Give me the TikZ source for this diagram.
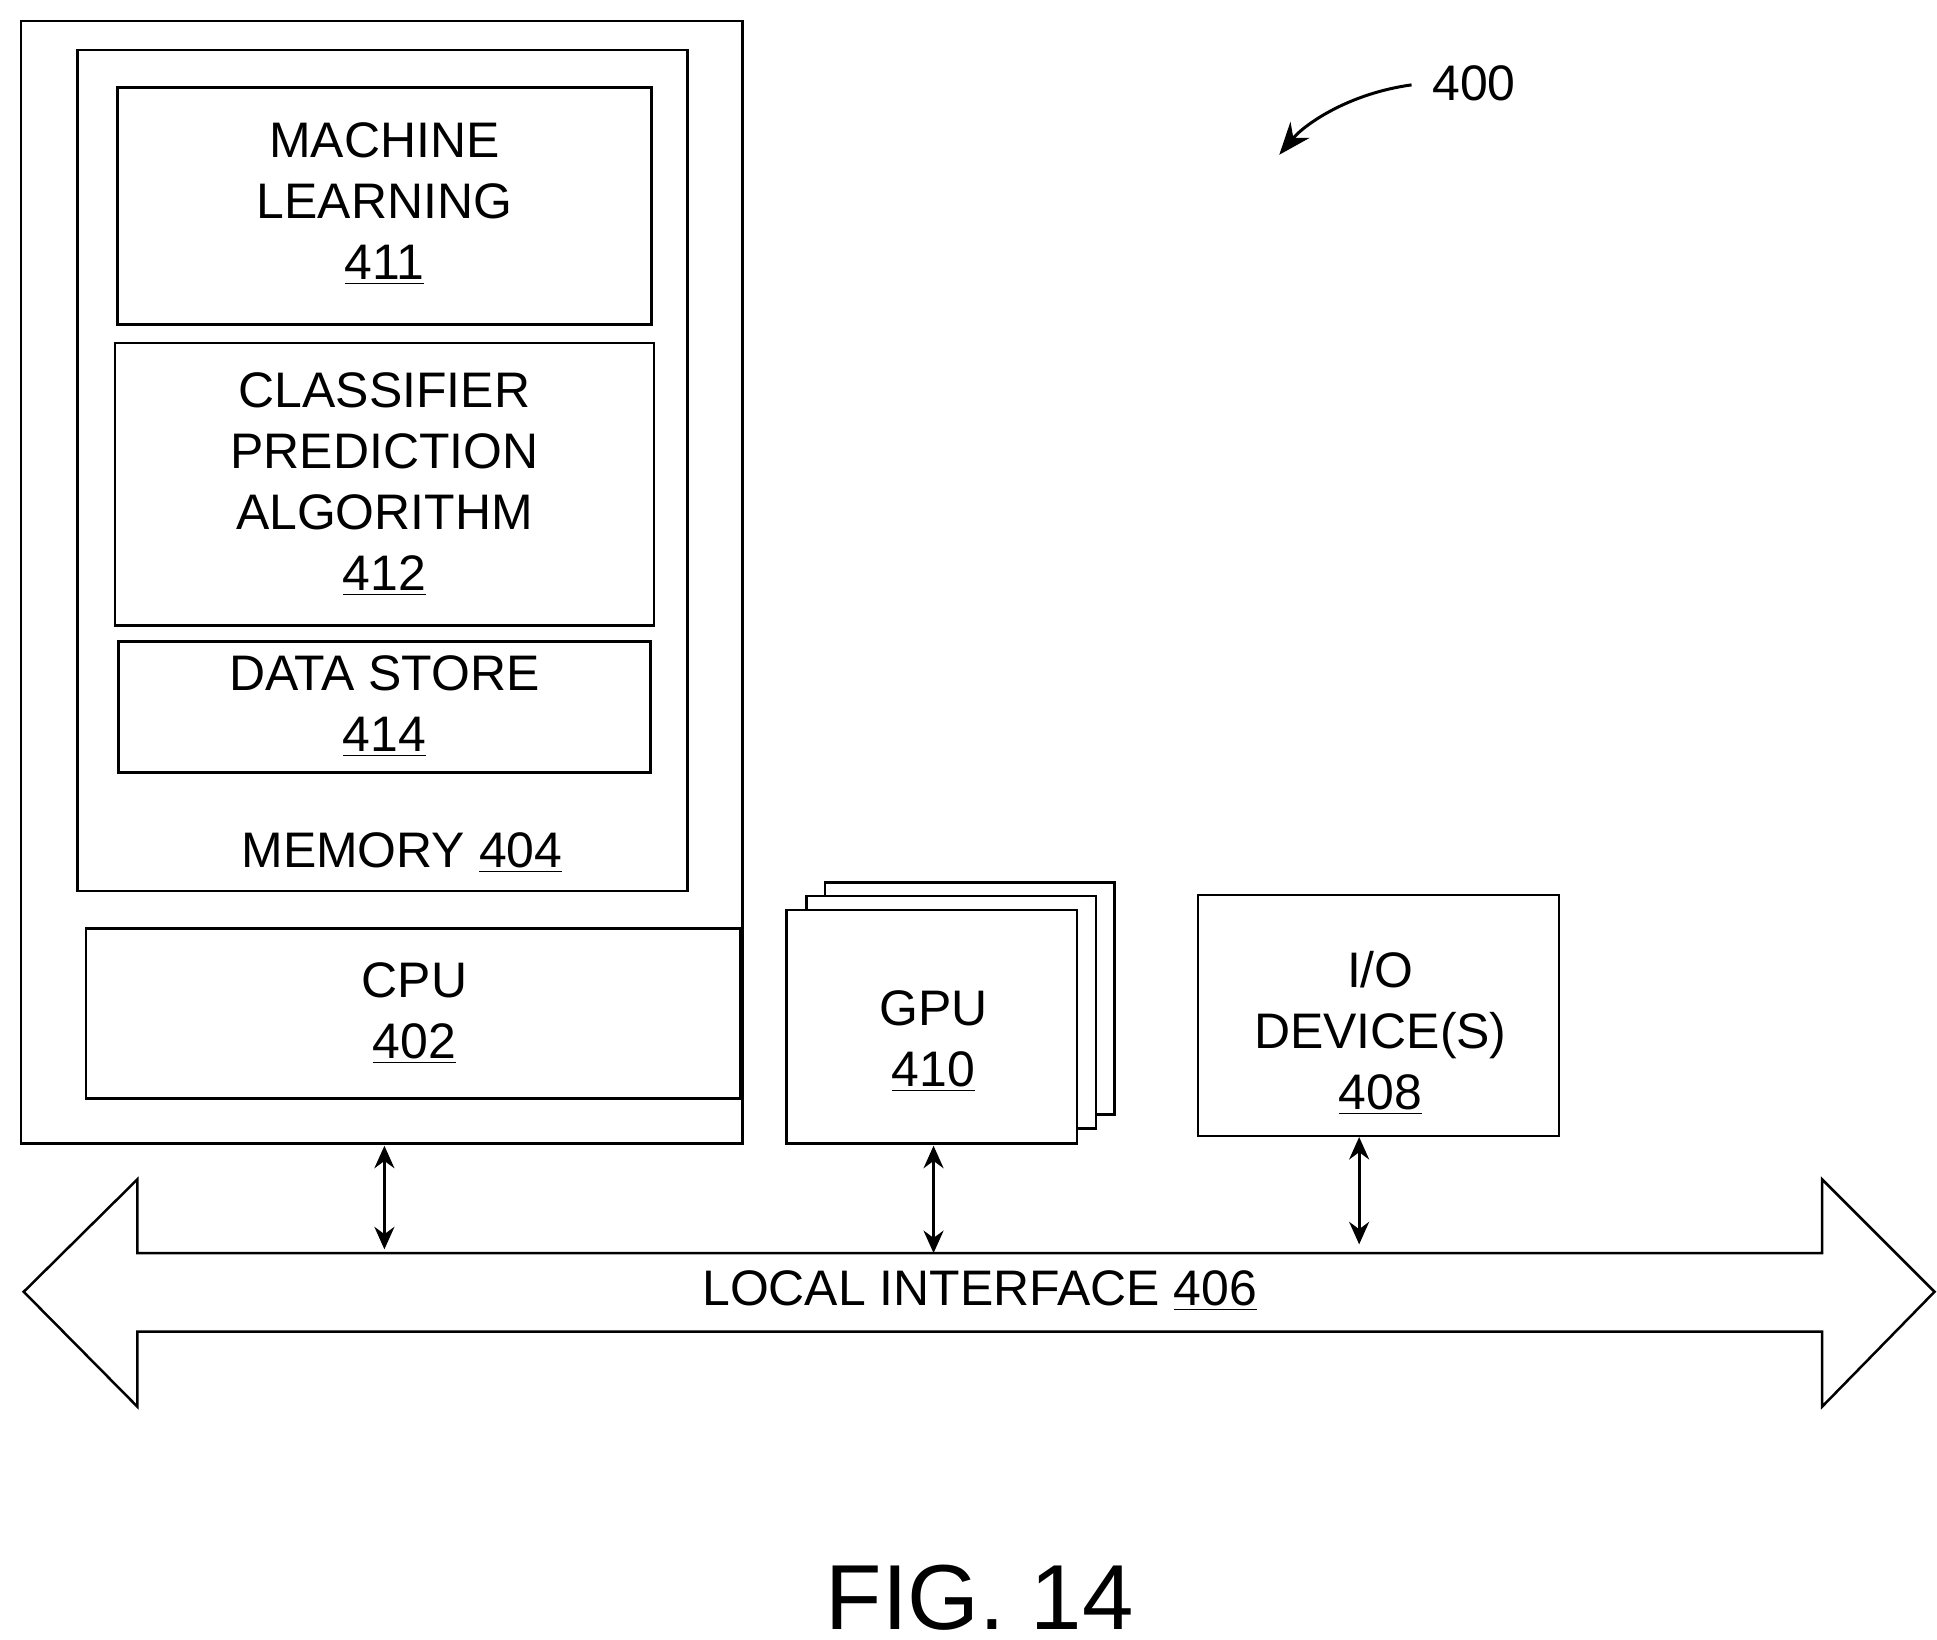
\documentclass[tikz,border=0pt]{standalone}
\usepackage{fontspec}
\usetikzlibrary{arrows.meta}
\setmainfont{Liberation Sans}
\begin{document}
\begin{tikzpicture}[x=0.5pt,y=-0.5pt,line width=1pt,
  box/.style={draw,fill=white},
  txt/.style={font=\fontsize{20}{24.5}\selectfont,align=center,inner sep=0},
  dbl/.style={<->,line width=1.2pt,>={Stealth[length=9pt,width=8pt]}}]
\useasboundingbox (0,0) rectangle (1552,1314);
\draw[box] (17,17) rectangle (595,916);
\draw[box] (62,40) rectangle (551,714);
\draw[box] (94,70) rectangle (522,260);
\node[txt] (ml) at (308,163) {MACHINE\\LEARNING\\\underline{411}};
\draw[box] (92,275) rectangle (524,501);
\node[txt] (cp) at (308,388) {CLASSIFIER\\PREDICTION\\ALGORITHM\\\underline{412}};
\draw[box] (95,514) rectangle (521,619);
\node[txt] (ds) at (308,566) {DATA STORE\\\underline{414}};
\node[txt] (mem) at (322,683) {MEMORY \underline{404}};
\draw[box] (69,744) rectangle (593,880);
\node[txt] (cpu) at (332,812) {CPU\\\underline{402}};
\draw[box] (661,707) rectangle (893,893);
\draw[box] (646,718) rectangle (878,904);
\draw[box] (630,729) rectangle (863,916);
\node[txt] (gpu) at (748,834) {GPU\\\underline{410}};
\draw[box] (960,717) rectangle (1249,910);
\node[txt] (io) at (1106,828) {I/O\\DEVICE(S)\\\underline{408}};
\draw (19,1035) -- (110,945) -- (110,1004) -- (1460,1004) -- (1460,945) -- (1550,1035) -- (1460,1127) -- (1460,1067) -- (110,1067) -- (110,1127) -- cycle;
\node[txt] (li) at (785,1034) {LOCAL INTERFACE \underline{406}};
\coordinate (a1) at (308,918); \coordinate (b1) at (308,1001);
\coordinate (a2) at (748,918); \coordinate (b2) at (748,1004);
\coordinate (a3) at (1089,911); \coordinate (b3) at (1089,997);
\draw[dbl] (a1) -- (b1);
\draw[dbl] (a2) -- (b2);
\draw[dbl] (a3) -- (b3);
\node[txt] (n400) at (1181,67) {400};
\coordinate (t400) at (1025,124);
\draw[->,line width=1.2pt,>={Stealth[length=13pt,width=10pt]}] (1131,68) .. controls (1080,75) and (1045,100) .. (t400);
\node[txt,font=\fontsize{37}{44}\selectfont] (fig) at (785,1280) {FIG. 14};
\end{tikzpicture}
\end{document}
